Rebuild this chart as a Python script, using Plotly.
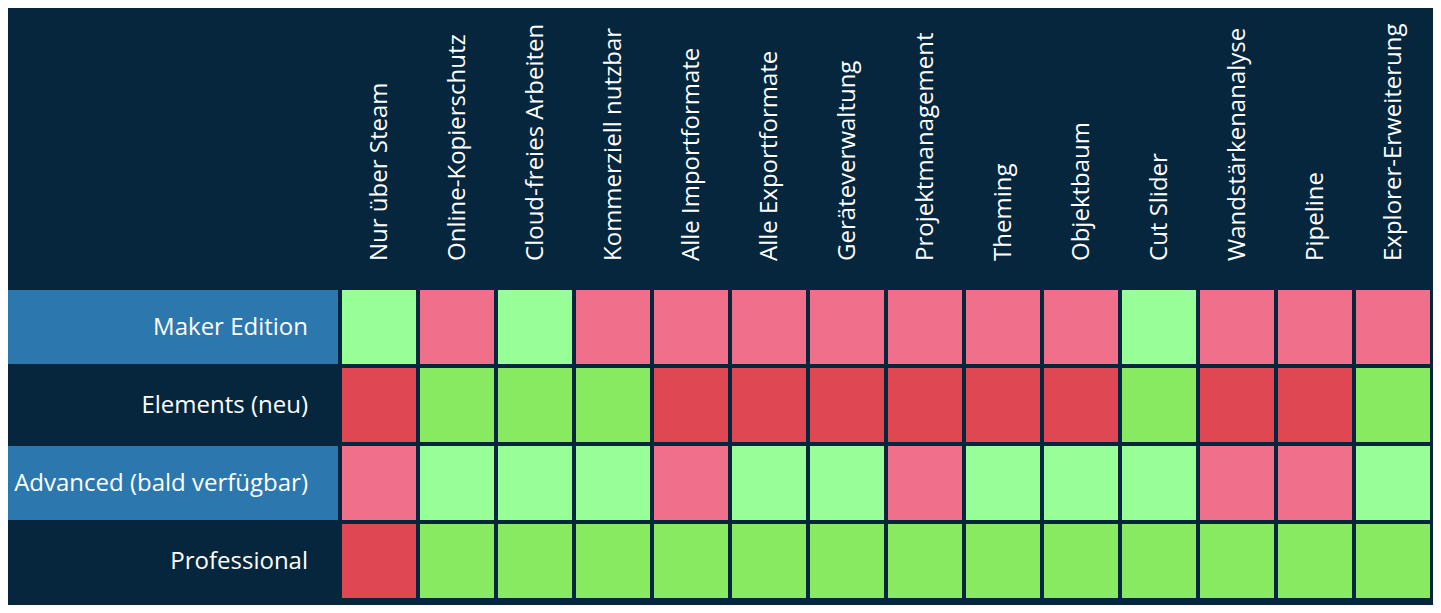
import plotly.graph_objects as go

W, H = 1425, 597
NAVY = "#05263d"
BLUE = "#2b77ae"
C_NO = "#df4852"
C_YES = "#87ea60"
C_NO_HL = "#f0708c"
C_YES_HL = "#98fe98"

features = ["Nur über Steam", "Online-Kopierschutz", "Cloud-freies Arbeiten",
            "Kommerziell nutzbar", "Alle Importformate", "Alle Exportformate",
            "Geräteverwaltung", "Projektmanagement", "Theming", "Objektbaum",
            "Cut Slider", "Wandstärkenanalyse", "Pipeline", "Explorer-Erweiterung"]
editions = ["Maker Edition", "Elements (neu)", "Advanced (bald verfügbar)", "Professional"]
highlighted = [True, False, True, False]

maker = [1, 0, 1, 0, 0, 0, 0, 0, 0, 0, 1, 0, 0, 0]
elements = [0, 1, 1, 1, 0, 0, 0, 0, 0, 0, 1, 0, 0, 1]
advanced = [0, 1, 1, 1, 0, 1, 1, 0, 1, 1, 1, 0, 0, 1]
professional = [0, 1, 1, 1, 1, 1, 1, 1, 1, 1, 1, 1, 1, 1]
matrix = [maker, elements, advanced, professional]

# encode: 0 no, 1 yes, 2 no (highlighted row), 3 yes (highlighted row)
z = [[v + (2 if hl else 0) for v in row] for row, hl in zip(matrix, highlighted)]
colorscale = [[0.0, C_NO], [0.25, C_NO], [0.25, C_YES], [0.5, C_YES],
              [0.5, C_NO_HL], [0.75, C_NO_HL], [0.75, C_YES_HL], [1.0, C_YES_HL]]

def xdom(px):
    return px / W

def ydom(px):
    return (H - px) / H

fig = go.Figure(go.Heatmap(
    z=z, x=features, y=editions, zmin=-0.5, zmax=3.5,
    colorscale=colorscale, showscale=False, xgap=4, ygap=4,
    hoverinfo="skip"))

shapes = []
for i, hl in enumerate(highlighted):
    if hl:
        shapes.append(dict(type="rect", xref="paper", yref="y",
                           x0=0, x1=xdom(330), y0=i - 37 / 78, y1=i + 37 / 78,
                           fillcolor=BLUE, line=dict(width=0), layer="below"))

fig.update_layout(
    width=W, height=H,
    margin=dict(l=0, r=0, t=0, b=0),
    paper_bgcolor=NAVY, plot_bgcolor="rgba(0,0,0,0)",
    font=dict(family="Open Sans", color="white", size=24),
    shapes=shapes,
    xaxis=dict(domain=[xdom(332), xdom(1424)], side="top", tickangle=-90,
               showgrid=False, zeroline=False, ticks="", showline=False,
               ticklabelstandoff=26, tickfont=dict(size=24, color="white"),
               fixedrange=True),
    yaxis=dict(domain=[ydom(592), ydom(280)], autorange="reversed",
               showgrid=False, zeroline=False, ticks="", showline=False,
               ticklabelstandoff=31, tickfont=dict(size=24, color="white"),
               fixedrange=True),
)

fig.write_html("out.html")
